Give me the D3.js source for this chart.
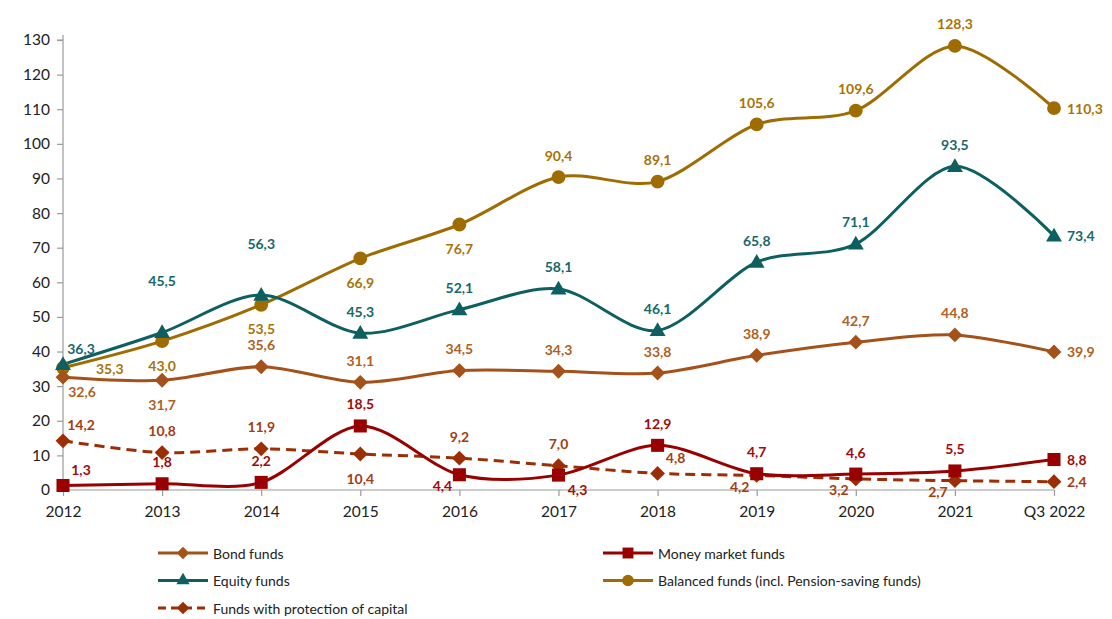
<!DOCTYPE html>
<html>
<head>
<meta charset="utf-8">
<script src="https://cdn.jsdelivr.net/npm/d3@7"></script>
<style>
  body { margin: 0; background: #fff; }
  svg { font-family: Lato, 'Open Sans', sans-serif; }
</style>
</head>
<body>
<div id="chart"></div>
<script>
// Categories and series values (billions)
const categories = ['2012', '2013', '2014', '2015', '2016', '2017', '2018', '2019', '2020', '2021', 'Q3 2022'];

const bondFunds = [32.6, 31.7, 35.6, 31.1, 34.5, 34.3, 33.8, 38.9, 42.7, 44.8, 39.9];
const moneyMarketFunds = [1.3, 1.8, 2.2, 18.5, 4.4, 4.3, 12.9, 4.7, 4.6, 5.5, 8.8];
const equityFunds = [36.3, 45.5, 56.3, 45.3, 52.1, 58.1, 46.1, 65.8, 71.1, 93.5, 73.4];
const balancedFunds = [35.3, 43.0, 53.5, 66.9, 76.7, 90.4, 89.1, 105.6, 109.6, 128.3, 110.3];
const protectionFunds = [14.2, 10.8, 11.9, 10.4, 9.2, 7.0, 4.8, 4.2, 3.2, 2.7, 2.4];

const yTicks = [0, 10, 20, 30, 40, 50, 60, 70, 80, 90, 100, 110, 120, 130];

// where each data label sits relative to its marker
const bondLabelPos = ['br', 'b', 'a', 'a', 'a', 'a', 'a', 'a', 'a', 'a', 'r'];
const moneyLabelPos = ['ar', 'a', 'a', 'a', 'bl', 'br', 'a', 'a', 'a', 'a', 'r'];
const equityLabelPos = ['ar', 'aa', 'aa', 'a', 'a', 'a', 'a', 'a', 'a', 'a', 'r'];
const balancedLabelPos = ['rr', 'b', 'b', 'b', 'b', 'a', 'a', 'a', 'a', 'a', 'r'];
const protectionLabelPos = ['ar', 'a', 'a', 'b', 'a', 'a', 'ar', 'bl', 'bl', 'bl', 'r'];

const series = [
    { name: 'Balanced funds (incl. Pension-saving funds)', values: balancedFunds, labelPos: balancedLabelPos,
      color: '#9E6C00', labelColor: '#A87408', symbol: d3.symbolCircle, size: 150, dash: null },
    { name: 'Equity funds', values: equityFunds, labelPos: equityLabelPos,
      color: '#0E6060', labelColor: '#16686A', symbol: d3.symbolTriangle, size: 110, dash: null },
    { name: 'Bond funds', values: bondFunds, labelPos: bondLabelPos,
      color: '#A4521A', labelColor: '#B0601E', symbol: d3.symbolDiamond2, size: 140, dash: null },
    { name: 'Funds with protection of capital', values: protectionFunds, labelPos: protectionLabelPos,
      color: '#9C2E06', labelColor: '#A53C12', symbol: d3.symbolDiamond2, size: 140, dash: '10,6' },
    { name: 'Money market funds', values: moneyMarketFunds, labelPos: moneyLabelPos,
      color: '#990000', labelColor: '#A00A0A', symbol: d3.symbolSquare, size: 170, dash: null }
];

const legendOrder = [
    'Bond funds', 'Money market funds',
    'Equity funds', 'Balanced funds (incl. Pension-saving funds)',
    'Funds with protection of capital'
];

const labelOffsets = {
    a: [0, -22, 'middle'], aa: [0, -52, 'middle'], b: [0, 24, 'middle'],
    ar: [18, -16, 'middle'], br: [19, 14, 'middle'], bl: [-17, 11, 'middle'],
    r: [13, 0, 'start'], rr: [33, 1, 'start']
};

const W = 1112, H = 619;
const svg = d3.select('#chart').append('svg')
    .attr('width', W)
    .attr('height', H);

const x = d3.scalePoint()
    .domain(categories)
    .range([63, 1054]);

const y = d3.scaleLinear()
    .domain([0, 130])
    .range([490, 40]);

// axes
const yAxis = svg.append('g')
    .attr('transform', 'translate(63,0)')
    .call(d3.axisLeft(y).tickValues(yTicks).tickSize(6).tickPadding(7));

const xAxis = svg.append('g')
    .attr('transform', 'translate(0,490)')
    .call(d3.axisBottom(x).tickSize(6).tickPadding(10));

[yAxis, xAxis].forEach(g => {
    g.select('.domain').attr('stroke', '#9a9a9a').attr('stroke-width', 1.2);
    g.selectAll('.tick line').attr('stroke', '#9a9a9a').attr('stroke-width', 1.2);
    g.selectAll('.tick text')
        .attr('fill', '#222')
        .style('font-size', '15.5px')
        .style('font-family', 'Lato, sans-serif');
});
// top of the y axis sticks up a little, as in the original
yAxis.select('.domain').attr('d', `M-6,${y(130)}H0V${y(0)}`);
yAxis.append('line').attr('x1', 0).attr('x2', 0).attr('y1', y(130) - 5).attr('y2', y(130))
    .attr('stroke', '#9a9a9a').attr('stroke-width', 1.2);
xAxis.select('.domain').attr('d', `M63,0H1054`);

const line = d3.line()
    .x((d, i) => x(categories[i]))
    .y(d => y(d))
    .curve(d3.curveCardinal.tension(0.1));

// lines
series.forEach(s => {
    svg.append('path')
        .datum(s.values)
        .attr('fill', 'none')
        .attr('stroke', s.color)
        .attr('stroke-width', 3)
        .attr('stroke-dasharray', s.dash)
        .attr('d', line);
});

// markers
series.forEach(s => {
    svg.append('g').selectAll('path')
        .data(s.values)
        .join('path')
        .attr('transform', (d, i) => `translate(${x(categories[i])},${y(d) + (s.symbol === d3.symbolTriangle ? 1 : 0)})`)
        .attr('d', d3.symbol(s.symbol, s.size))
        .attr('fill', s.color);
});

// data labels
const fmt = v => v.toFixed(1).replace('.', ',');
series.forEach(s => {
    svg.append('g').selectAll('text')
        .data(s.values)
        .join('text')
        .attr('x', (d, i) => x(categories[i]) + labelOffsets[s.labelPos[i]][0])
        .attr('y', (d, i) => y(d) + labelOffsets[s.labelPos[i]][1])
        .attr('text-anchor', (d, i) => labelOffsets[s.labelPos[i]][2])
        .attr('dominant-baseline', 'central')
        .attr('fill', s.labelColor)
        .style('font-size', '14px')
        .style('font-weight', 'bold')
        .text(d => fmt(d));
});

// legend
const legend = svg.append('g');
legendOrder.forEach((name, k) => {
    const s = series.find(d => d.name === name);
    const col = k % 2, row = Math.floor(k / 2);
    const lx = col === 0 ? 158 : 603;
    const ly = 553 + row * 27.5;
    const g = legend.append('g').attr('transform', `translate(${lx},${ly})`);
    g.append('line')
        .attr('x1', 0).attr('x2', 50)
        .attr('stroke', s.color)
        .attr('stroke-width', 3)
        .attr('stroke-dasharray', s.dash ? '8,5' : null);
    g.append('path')
        .attr('transform', 'translate(25,0)')
        .attr('d', d3.symbol(s.symbol, s.size * 0.7))
        .attr('fill', s.color);
    g.append('text')
        .attr('x', 55)
        .attr('dominant-baseline', 'central')
        .attr('fill', '#222')
        .style('font-size', '14px')
        .text(name);
});
</script>
</body>
</html>
